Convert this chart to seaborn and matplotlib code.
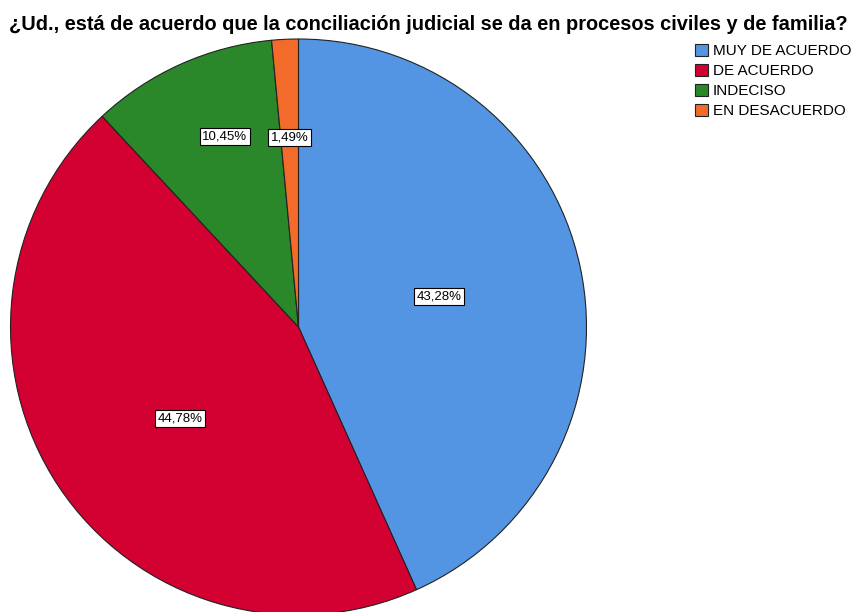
import numpy as np
import seaborn as sns
import matplotlib.pyplot as plt

# Datos del gráfico
categorias = ["MUY DE ACUERDO", "DE ACUERDO", "INDECISO", "EN DESACUERDO"]
porcentajes = [43.28, 44.78, 10.45, 1.49]
etiquetas = ["43,28%", "44,78%", "10,45%", "1,49%"]
colores = ["#5394E3", "#D30032", "#2A872A", "#F36B2A"]
# posicion de cada etiqueta: fraccion del radio y desvio de angulo (grados)
dist_etiquetas = [0.50, 0.52, 0.71, 0.66]
desvio_angulo = [0, 4, -3, 0]

sns.set_style("white")
plt.rcParams["font.family"] = ["Liberation Sans", "DejaVu Sans"]
plt.rcParams["text.color"] = "black"

fig = plt.figure(figsize=(8.64, 6.12), dpi=100)
ax = fig.add_axes([10.5 / 864, -3 / 612, 576 / 864, 576 / 612])

paleta = sns.color_palette(colores)
wedges, _ = ax.pie(porcentajes, colors=paleta, startangle=90, counterclock=False,
                   radius=1, wedgeprops=dict(edgecolor="#222222", linewidth=0.8))

# etiquetas con caja blanca
for w, txt, d, da in zip(wedges, etiquetas, dist_etiquetas, desvio_angulo):
    ang = np.deg2rad((w.theta1 + w.theta2) / 2 + da)
    ax.text(d * np.cos(ang), d * np.sin(ang), txt, ha="center", va="center", fontsize=9.5,
            bbox=dict(boxstyle="square,pad=0.18", fc="white", ec="black", lw=0.8))

ax.set_xlim(-1, 1)
ax.set_ylim(-1, 1)
ax.set_aspect("equal")
ax.axis("off")

fig.text(428 / 864, 1 - 25 / 612,
         "¿Ud., está de acuerdo que la conciliación judicial se da en procesos civiles y de familia?",
         ha="center", va="center", fontsize=14.4, fontweight="bold")

leg = ax.legend(wedges, categorias, loc="upper left", bbox_to_anchor=(695 / 864, 1 - 44 / 612),
                bbox_transform=fig.transFigure, frameon=False, fontsize=11,
                handlelength=0.85, handleheight=0.85, handletextpad=0.3,
                labelspacing=0.36, borderpad=0, borderaxespad=0)

fig.savefig("out.png", dpi=100)
